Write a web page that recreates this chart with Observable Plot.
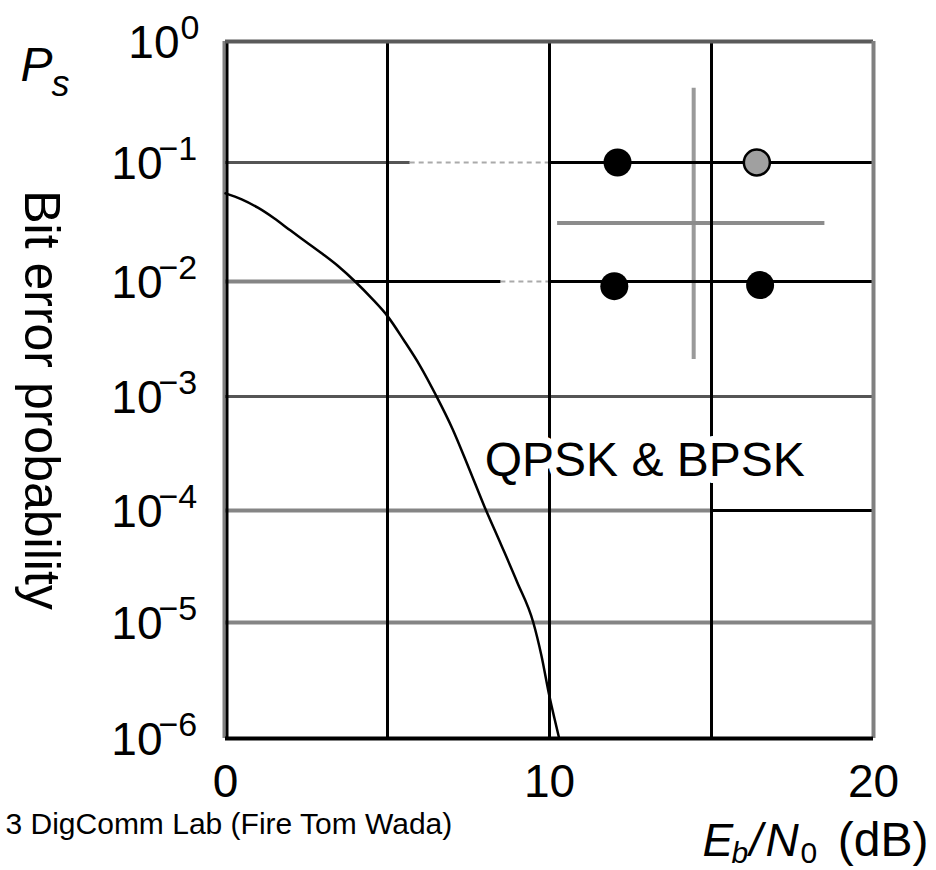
<!DOCTYPE html>
<html><head><meta charset="utf-8">
<script src="https://cdn.jsdelivr.net/npm/d3@7"></script>
<script src="https://cdn.jsdelivr.net/npm/@observablehq/plot@0.6"></script>
<style>
body{margin:0;background:#fff;}
#chart svg{display:block;}
</style>
</head><body><div id="chart"></div>
<script>
// ---- data ----
const ebn0 = [0, 0.5, 1, 1.5, 2, 2.5, 3, 3.5, 4, 4.5, 5, 5.5, 6, 6.5, 7, 7.5, 8, 8.5, 9, 9.5, 9.75, 10, 10.15, 10.3];
const ber  = [0.055, 0.049, 0.0417, 0.034, 0.0269, 0.0214, 0.0170, 0.0133, 0.0100, 0.0072, 0.0050, 0.0031, 0.00186, 0.00102, 0.000525, 0.00024, 1.07e-4, 5.0e-5, 2.3e-5, 1.0e-5, 5.2e-6, 2.3e-6, 1.5e-6, 1.0e-6];
const yExponents = [0, -1, -2, -3, -4, -5, -6];
const xTicks = [0, 10, 20];
const xGrid = [5, 10, 15];
// horizontal grid segments: [value, from Eb/N0, to Eb/N0]
const hGridGray  = [[1e-2, 0, 4], [1e-4, 0, 15], [1e-5, 0, 20]];
const hGridDark  = [[1e-1, 0, 5.7], [1e-3, 0, 20]];
const hGridLight = [[1e-1, 5.7, 10], [1e-2, 8.5, 10]];
const hGridBlack = [[1e-1, 10, 20], [1e-2, 4, 8.5], [1e-2, 10, 20], [1e-4, 15, 20]];
// constellation inset (drawn in data coordinates)
const constDots = [[12.1, 0.1], [12.0, 0.0091], [16.5, 0.0093]];
const constMarked = [[16.4, 0.1]];
const constIAxis = [[14.45, 0.41, 0.0021]];
const constQAxis = [[0.031, 10.25, 18.5]];
const curveLabel = [{text: "QPSK & BPSK", x: 8.0, y: 2.0e-4}];
const yLabel = ["Bit error probability"];
const caption = ["3 DigComm Lab (Fire Tom Wada)"];

// ---- derived tables ----
const curve = ebn0.map((x, i) => ({x, y: ber[i]}));
const yTicks = yExponents.map(e => ({v: Math.pow(10, e), e, exp: e === 0 ? "0" : "\u2212" + (-e)}));
const yTicksZero = yTicks.filter(d => d.e === 0);
const yTicksNeg = yTicks.filter(d => d.e !== 0);

const font = "'Liberation Sans', Arial, Helvetica, sans-serif";
const seg = (arr, stroke, strokeWidth, extra = {}) =>
  Plot.ruleY(arr, {y: d => d[0], x1: d => d[1], x2: d => d[2], stroke, strokeWidth, ...extra});

const plot = Plot.plot({
  width: 936, height: 870,
  marginLeft: 225, marginRight: 63, marginTop: 41, marginBottom: 132,
  style: {fontFamily: font, background: "white", color: "black", overflow: "visible"},
  x: {domain: [0, 20], axis: null},
  y: {type: "log", domain: [1, 1e-1, 1e-2, 1e-3, 1e-4, 1e-5, 1e-6], range: [41, 162, 281, 396, 510, 622, 738], axis: null},
  marks: [
    // constellation axes (under the grid)
    Plot.ruleX(constIAxis, {x: d => d[0], y1: d => d[1], y2: d => d[2], stroke: "#9a9a9a", strokeWidth: 4}),
    Plot.ruleY(constQAxis, {y: d => d[0], x1: d => d[1], x2: d => d[2], stroke: "#8c8c8c", strokeWidth: 4}),
    // grid
    seg(hGridGray, "#858585", 4),
    seg(hGridDark, "#555", 3),
    seg(hGridLight, "#aaa", 2, {strokeDasharray: "5,4"}),
    seg(hGridBlack, "black", 3),
    Plot.ruleX(xGrid, {stroke: "black", strokeWidth: 3}),
    // frame
    Plot.ruleX([0], {stroke: "#808080", strokeWidth: 3, dx: -1.5}),
    Plot.ruleX([0], {stroke: "black", strokeWidth: 3, dx: 1.5}),
    Plot.ruleY([1], {stroke: "#5a5a5a", strokeWidth: 4}),
    Plot.ruleX([20], {stroke: "#808080", strokeWidth: 4}),
    Plot.ruleY([1e-6], {stroke: "black", strokeWidth: 4}),
    // curve label with white halo (breaks grid lines)
    Plot.text(curveLabel, {x: "x", y: "y", text: "text", textAnchor: "start", lineAnchor: "bottom",
      fontSize: 48, fill: "black", stroke: "white", strokeWidth: 14, paintOrder: "stroke", strokeLinejoin: "round"}),
    // BER curve
    Plot.line(curve, {x: "x", y: "y", stroke: "black", strokeWidth: 2.5, curve: "monotone-x"}),
    // constellation points
    Plot.dot(constDots, {x: d => d[0], y: d => d[1], r: 14, fill: "black", stroke: "none"}),
    Plot.dot(constMarked, {x: d => d[0], y: d => d[1], r: 13, fill: "#a0a0a0", stroke: "black", strokeWidth: 2.5}),
    // y tick labels 10^n
    Plot.text(yTicksNeg, {y: "v", text: () => "10", frameAnchor: "left", textAnchor: "end", lineAnchor: "bottom", dx: -63, dy: 16, fontSize: 46}),
    Plot.text(yTicksNeg, {y: "v", text: "exp", frameAnchor: "left", textAnchor: "start", lineAnchor: "bottom", dx: -67, dy: -3, fontSize: 34}),
    Plot.text(yTicksZero, {y: "v", text: () => "10", frameAnchor: "left", textAnchor: "end", lineAnchor: "bottom", dx: -46, dy: 16, fontSize: 46}),
    Plot.text(yTicksZero, {y: "v", text: "exp", frameAnchor: "left", textAnchor: "start", lineAnchor: "bottom", dx: -45, dy: -3, fontSize: 34}),
    // x tick labels
    Plot.text(xTicks, {x: d => d, text: d => String(d), frameAnchor: "bottom", textAnchor: "middle", lineAnchor: "bottom", dy: 58, fontSize: 46}),
    // y axis title
    Plot.text(yLabel, {text: d => d, frameAnchor: "left", textAnchor: "middle", lineAnchor: "middle", rotate: 90, dx: -185, dy: 10, fontSize: 50}),
    // P_s
    Plot.text(["P"], {text: d => d, frameAnchor: "top-left", textAnchor: "start", lineAnchor: "bottom", dx: -205, dy: 39, fontSize: 48, fontStyle: "italic"}),
    Plot.text(["s"], {text: d => d, frameAnchor: "top-left", textAnchor: "start", lineAnchor: "bottom", dx: -174, dy: 54, fontSize: 36, fontStyle: "italic"}),
    // E_b/N_0 (dB)
    Plot.text(["E"], {text: d => d, frameAnchor: "bottom-right", textAnchor: "start", lineAnchor: "bottom", dx: -171, dy: 117, fontSize: 46, fontStyle: "italic"}),
    Plot.text(["b"], {text: d => d, frameAnchor: "bottom-right", textAnchor: "start", lineAnchor: "bottom", dx: -142, dy: 124, fontSize: 30, fontStyle: "italic"}),
    Plot.text(["/"], {text: d => d, frameAnchor: "bottom-right", textAnchor: "start", lineAnchor: "bottom", dx: -124, dy: 117, fontSize: 46, fontStyle: "italic"}),
    Plot.text(["N"], {text: d => d, frameAnchor: "bottom-right", textAnchor: "start", lineAnchor: "bottom", dx: -108, dy: 117, fontSize: 46, fontStyle: "italic"}),
    Plot.text(["0"], {text: d => d, frameAnchor: "bottom-right", textAnchor: "start", lineAnchor: "bottom", dx: -73, dy: 124, fontSize: 30}),
    Plot.text(["(dB)"], {text: d => d, frameAnchor: "bottom-right", textAnchor: "end", lineAnchor: "bottom", dx: 55, dy: 117, fontSize: 48}),
    // caption
    Plot.text(caption, {text: d => d, frameAnchor: "bottom-left", textAnchor: "start", lineAnchor: "bottom", dx: -220, dy: 95, fontSize: 30})
  ]
});
document.getElementById("chart").appendChild(plot);
</script>
</body></html>
